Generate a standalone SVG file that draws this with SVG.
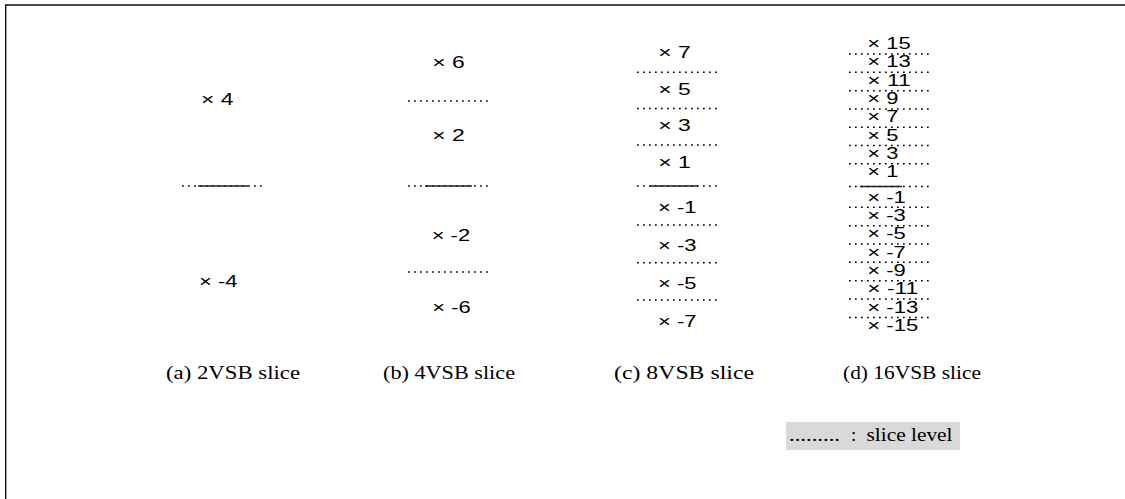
<svg xmlns="http://www.w3.org/2000/svg" width="1125" height="499" viewBox="0 0 1125 499">
<style>
.lbl{font-family:"Liberation Sans",Arial,sans-serif;font-size:17px;fill:#000}
.lbs{font-family:"Liberation Sans",Arial,sans-serif;font-size:16.5px;fill:#000}
.cap{font-family:"Liberation Serif","Times New Roman",serif;font-size:19px;fill:#000}
.dot{stroke:#000;stroke-width:1.4;stroke-dasharray:1.7 4.3;fill:none}
.sol{stroke:#222;stroke-width:1.6;fill:none}
</style>
<rect width="1125" height="499" fill="#fff"/>
<path d="M5.7,499 V5 H1125" fill="none" stroke="#111" stroke-width="1.4"/>

<g id="slice-2vsb">
<text class="lbl" x="201" y="105" textLength="32.5" lengthAdjust="spacingAndGlyphs">× 4</text>
<text class="lbl" x="199" y="287" textLength="38.5" lengthAdjust="spacingAndGlyphs">× -4</text>
<line class="dot" x1="182" y1="186" x2="263" y2="186"/>
<line class="sol" x1="198" y1="186" x2="248" y2="186"/>
<text class="cap" x="166" y="379" textLength="134" lengthAdjust="spacingAndGlyphs">(a) 2VSB slice</text>
</g>

<g id="slice-4vsb">
<text class="lbl" x="432.3" y="68.3" textLength="32.5" lengthAdjust="spacingAndGlyphs">× 6</text>
<line class="dot" x1="408" y1="101" x2="491" y2="101"/>
<text class="lbl" x="432.3" y="141" textLength="32.5" lengthAdjust="spacingAndGlyphs">× 2</text>
<line class="dot" x1="408" y1="186" x2="491" y2="186"/>
<line class="sol" x1="425" y1="186" x2="472" y2="186"/>
<text class="lbl" x="431.7" y="240.7" textLength="38.5" lengthAdjust="spacingAndGlyphs">× -2</text>
<line class="dot" x1="408" y1="272" x2="491" y2="272"/>
<text class="lbl" x="432.3" y="313.3" textLength="38.5" lengthAdjust="spacingAndGlyphs">× -6</text>
<text class="cap" x="383" y="379" textLength="132" lengthAdjust="spacingAndGlyphs">(b) 4VSB slice</text>
</g>

<g id="slice-8vsb">
<text class="lbl" x="658.3" y="58.3" textLength="32.5" lengthAdjust="spacingAndGlyphs">× 7</text>
<line class="dot" x1="637" y1="72.3" x2="718" y2="72.3"/>
<text class="lbl" x="658.3" y="95" textLength="32.5" lengthAdjust="spacingAndGlyphs">× 5</text>
<line class="dot" x1="637" y1="108.5" x2="718" y2="108.5"/>
<text class="lbl" x="658.3" y="131" textLength="32.5" lengthAdjust="spacingAndGlyphs">× 3</text>
<line class="dot" x1="637" y1="145" x2="718" y2="145"/>
<text class="lbl" x="658.3" y="168.3" textLength="32.5" lengthAdjust="spacingAndGlyphs">× 1</text>
<line class="dot" x1="637" y1="186" x2="718" y2="186"/>
<line class="sol" x1="650" y1="186" x2="698" y2="186"/>
<text class="lbl" x="658" y="213.3" textLength="38.5" lengthAdjust="spacingAndGlyphs">× -1</text>
<line class="dot" x1="637" y1="225" x2="718" y2="225"/>
<text class="lbl" x="658" y="251" textLength="38.5" lengthAdjust="spacingAndGlyphs">× -3</text>
<line class="dot" x1="637" y1="262.7" x2="718" y2="262.7"/>
<text class="lbl" x="658" y="289" textLength="38.5" lengthAdjust="spacingAndGlyphs">× -5</text>
<line class="dot" x1="637" y1="300" x2="718" y2="300"/>
<text class="lbl" x="658" y="326.7" textLength="38.5" lengthAdjust="spacingAndGlyphs">× -7</text>
<text class="cap" x="614" y="379" textLength="140" lengthAdjust="spacingAndGlyphs">(c) 8VSB slice</text>
</g>

<g id="slice-16vsb">
<text class="lbs" x="867.3" y="49" textLength="43.5" lengthAdjust="spacingAndGlyphs">× 15</text>
<line class="dot" x1="849" y1="54" x2="931" y2="54"/>
<text class="lbs" x="867.3" y="67.3" textLength="43.5" lengthAdjust="spacingAndGlyphs">× 13</text>
<line class="dot" x1="849" y1="72.3" x2="931" y2="72.3"/>
<text class="lbs" x="867.3" y="85.7" textLength="43.5" lengthAdjust="spacingAndGlyphs">× 11</text>
<line class="dot" x1="849" y1="90.7" x2="931" y2="90.7"/>
<text class="lbs" x="867.3" y="104" textLength="31" lengthAdjust="spacingAndGlyphs">× 9</text>
<line class="dot" x1="849" y1="109" x2="931" y2="109"/>
<text class="lbs" x="867.3" y="122.3" textLength="31" lengthAdjust="spacingAndGlyphs">× 7</text>
<line class="dot" x1="849" y1="127.3" x2="931" y2="127.3"/>
<text class="lbs" x="867.3" y="140.7" textLength="31" lengthAdjust="spacingAndGlyphs">× 5</text>
<line class="dot" x1="849" y1="145.5" x2="931" y2="145.5"/>
<text class="lbs" x="867.3" y="159" textLength="31" lengthAdjust="spacingAndGlyphs">× 3</text>
<line class="dot" x1="849" y1="163.7" x2="931" y2="163.7"/>
<text class="lbs" x="867.3" y="177.3" textLength="31" lengthAdjust="spacingAndGlyphs">× 1</text>
<line class="dot" x1="849" y1="186.5" x2="931" y2="186.5"/>
<line class="sol" x1="860" y1="186.5" x2="902" y2="186.5"/>
<text class="lbs" x="867.3" y="202.7" textLength="38.5" lengthAdjust="spacingAndGlyphs">× -1</text>
<line class="dot" x1="849" y1="207.3" x2="931" y2="207.3"/>
<text class="lbs" x="867.3" y="221" textLength="38.5" lengthAdjust="spacingAndGlyphs">× -3</text>
<line class="dot" x1="849" y1="225.7" x2="931" y2="225.7"/>
<text class="lbs" x="867.3" y="239.3" textLength="38.5" lengthAdjust="spacingAndGlyphs">× -5</text>
<line class="dot" x1="849" y1="244" x2="931" y2="244"/>
<text class="lbs" x="867.3" y="257.7" textLength="38.5" lengthAdjust="spacingAndGlyphs">× -7</text>
<line class="dot" x1="849" y1="262.3" x2="931" y2="262.3"/>
<text class="lbs" x="867.3" y="276" textLength="38.5" lengthAdjust="spacingAndGlyphs">× -9</text>
<line class="dot" x1="849" y1="280.7" x2="931" y2="280.7"/>
<text class="lbs" x="867.3" y="294.3" textLength="51" lengthAdjust="spacingAndGlyphs">× -11</text>
<line class="dot" x1="849" y1="299" x2="931" y2="299"/>
<text class="lbs" x="867.3" y="312.7" textLength="51" lengthAdjust="spacingAndGlyphs">× -13</text>
<line class="dot" x1="849" y1="317.5" x2="931" y2="317.5"/>
<text class="lbs" x="867.3" y="331" textLength="51" lengthAdjust="spacingAndGlyphs">× -15</text>
<text class="cap" x="843" y="379" textLength="138" lengthAdjust="spacingAndGlyphs">(d) 16VSB slice</text>
</g>

<g id="legend">
<rect x="786" y="422" width="174" height="28" fill="#d9d9d9"/>
<text class="cap" x="789" y="441" textLength="51" lengthAdjust="spacingAndGlyphs">.........</text>
<text class="cap" x="851" y="441">:</text>
<text class="cap" x="866.5" y="441" textLength="86" lengthAdjust="spacingAndGlyphs">slice level</text>
</g>
</svg>
